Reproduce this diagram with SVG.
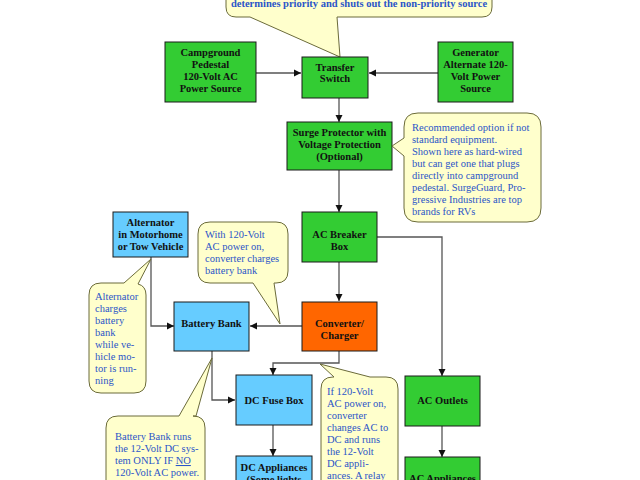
<svg xmlns="http://www.w3.org/2000/svg" width="640" height="480" viewBox="0 0 640 480">
<defs>
<marker id="ah" markerWidth="8" markerHeight="8" refX="7" refY="4" orient="auto" markerUnits="userSpaceOnUse">
<path d="M0,0.5 L7,4 L0,7.5 Z" fill="#111"/>
</marker>
<style>
.g{fill:#33cc33;stroke:#1a1a1a;stroke-width:1}
.b{fill:#66ccff;stroke:#1a1a1a;stroke-width:1}
.o{fill:#ff6600;stroke:#1a1a1a;stroke-width:1}
.t{font-family:"Liberation Serif",serif;font-weight:bold;font-size:10.5px;fill:#111;text-anchor:middle}
.c{fill:#ffffcc;stroke:#6b6b3a;stroke-width:1}
.ct{font-family:"Liberation Serif",serif;font-size:10.5px;fill:#2b55c8}
.e{fill:none;stroke:#555;stroke-width:1.3}
</style>
</defs>
<rect width="640" height="480" fill="#fff"/>

<g id="connectors">
<path class="e" d="M256,73 H301" marker-end="url(#ah)"/>
<path class="e" d="M438,73 H369" marker-end="url(#ah)"/>
<path class="e" d="M339,98 V122" marker-end="url(#ah)"/>
<path class="e" d="M339,170 V212" marker-end="url(#ah)"/>
<path class="e" d="M377,237 H442 V376" marker-end="url(#ah)"/>
<path class="e" d="M339,262 V301" marker-end="url(#ah)"/>
<path class="e" d="M302,326 H250" marker-end="url(#ah)"/>
<path class="e" d="M151,257 V326 H174" marker-end="url(#ah)"/>
<path class="e" d="M212,351 V400 H235" marker-end="url(#ah)"/>
<path class="e" d="M339,351 V363 H273 V375" marker-end="url(#ah)"/>
<path class="e" d="M273,425 V456" marker-end="url(#ah)"/>
<path class="e" d="M442,426 V457" marker-end="url(#ah)"/>
</g>

<g id="callout-top">
<path class="c" d="M236,-10 H482 Q492,-10 492,0 V7 Q492,17 482,17 H337 L340,57 L250,17 H236 Q226,17 226,7 V0 Q226,-10 236,-10 Z"/>
<text class="ct" x="359" y="7" font-size="9px" font-weight="bold" text-anchor="middle">determines priority and shuts out the non-priority source</text>
</g>

<g id="campground">
<rect class="g" x="165" y="42" width="91" height="60"/>
<text class="t" x="210.5" y="56">Campground</text>
<text class="t" x="210.5" y="68">Pedestal</text>
<text class="t" x="210.5" y="80" font-weight="normal">120-Volt AC</text>
<text class="t" x="210.5" y="92" font-weight="normal">Power Source</text>
</g>

<g id="transfer">
<rect class="g" x="302" y="57" width="66" height="41"/>
<text class="t" x="335" y="71">Transfer</text>
<text class="t" x="335" y="82">Switch</text>
</g>

<g id="generator">
<rect class="g" x="438" y="42" width="75" height="60"/>
<text class="t" x="475.5" y="56">Generator</text>
<text class="t" x="475.5" y="68" font-weight="normal">Alternate 120-</text>
<text class="t" x="475.5" y="80" font-weight="normal">Volt Power</text>
<text class="t" x="475.5" y="92" font-weight="normal">Source</text>
</g>

<g id="surge">
<rect class="g" x="287" y="122" width="105" height="48"/>
<text class="t" x="339.5" y="136">Surge Protector with</text>
<text class="t" x="339.5" y="148">Voltage Protection</text>
<text class="t" x="339.5" y="160" font-weight="normal">(Optional)</text>
</g>

<g id="callout-surge">
<path class="c" d="M418,113 H527 Q541,113 541,127 V208 Q541,222 527,222 H418 Q404,222 404,208 V156 L392,146 L404,138 V127 Q404,113 418,113 Z"/>
<text class="ct" x="412" y="131">Recommended option if not</text>
<text class="ct" x="412" y="143">standard equipment.</text>
<text class="ct" x="412" y="155">Shown here as hard-wired</text>
<text class="ct" x="412" y="167">but can get one that plugs</text>
<text class="ct" x="412" y="179">directly into campground</text>
<text class="ct" x="412" y="191">pedestal.  SurgeGuard, Pro-</text>
<text class="ct" x="412" y="203">gressive Industries are top</text>
<text class="ct" x="412" y="215">brands for RVs</text>
</g>

<g id="acbreaker">
<rect class="g" x="302" y="212" width="75" height="50"/>
<text class="t" x="339.5" y="238">AC Breaker</text>
<text class="t" x="339.5" y="250">Box</text>
</g>

<g id="alternator">
<rect class="b" x="113" y="212" width="75" height="45"/>
<text class="t" x="150.5" y="226">Alternator</text>
<text class="t" x="150.5" y="238" font-weight="normal">in Motorhome</text>
<text class="t" x="150.5" y="250" font-weight="normal">or Tow Vehicle</text>
</g>

<g id="callout-with120">
<path class="c" d="M210,222 H276 Q288,222 288,234 V271 Q288,283 276,283 H274 L280,324 L253,283 H210 Q198,283 198,271 V234 Q198,222 210,222 Z"/>
<text class="ct" x="205" y="238">With 120-Volt</text>
<text class="ct" x="205" y="250">AC power on,</text>
<text class="ct" x="205" y="262">converter charges</text>
<text class="ct" x="205" y="274">battery bank</text>
</g>

<g id="callout-alternator">
<path class="c" d="M101,283 H124 L151,259 L138,284 Q146,286 146,295 V381 Q146,393 134,393 H101 Q89,393 89,381 V295 Q89,283 101,283 Z"/>
<text class="ct" x="95" y="300">Alternator</text>
<text class="ct" x="95" y="312">charges</text>
<text class="ct" x="95" y="324">battery</text>
<text class="ct" x="95" y="336">bank</text>
<text class="ct" x="95" y="348">while ve-</text>
<text class="ct" x="95" y="360">hicle mo-</text>
<text class="ct" x="95" y="372">tor is run-</text>
<text class="ct" x="95" y="384">ning</text>
</g>

<g id="battery">
<rect class="b" x="174" y="302" width="75" height="49"/>
<text class="t" x="211.5" y="327">Battery Bank</text>
</g>

<g id="converter">
<rect class="o" x="302" y="302" width="75" height="49"/>
<text class="t" x="339.5" y="327">Converter/</text>
<text class="t" x="339.5" y="339">Charger</text>
</g>

<g id="dcfuse">
<rect class="b" x="236" y="375" width="76" height="50"/>
<text class="t" x="274" y="404">DC Fuse Box</text>
</g>

<g id="dcappliances">
<rect class="b" x="236" y="456" width="76" height="40"/>
<text class="t" x="274" y="471">DC Appliances</text>
<text class="t" x="274" y="483" font-weight="normal">(Some lights</text>
</g>

<g id="acoutlets">
<rect class="g" x="405" y="376" width="75" height="50"/>
<text class="t" x="442.5" y="404">AC Outlets</text>
</g>

<g id="acappliances">
<rect class="g" x="405" y="457" width="75" height="40"/>
<text class="t" x="442.5" y="482">AC Appliances</text>
</g>

<g id="callout-battery">
<path class="c" d="M118,416 H179 L212,358 L196,416 H193 Q205,416 205,428 V500 H106 V428 Q106,416 118,416 Z"/>
<text class="ct" x="115" y="440">Battery Bank runs</text>
<text class="ct" x="115" y="452">the 12-Volt DC sys-</text>
<text class="ct" x="115" y="464">tem ONLY IF <tspan text-decoration="underline">NO</tspan></text>
<text class="ct" x="115" y="476">120-Volt AC power.</text>
<text class="ct" x="115" y="488">If AC power on, the</text>
</g>

<g id="callout-if120">
<path class="c" d="M333,377 H334 L320,364 L370,377 H386 Q398,377 398,389 V500 H321 V389 Q321,377 333,377 Z"/>
<text class="ct" x="327" y="395">If 120-Volt</text>
<text class="ct" x="327" y="407">AC power on,</text>
<text class="ct" x="327" y="419">converter</text>
<text class="ct" x="327" y="431">changes AC to</text>
<text class="ct" x="327" y="443">DC and runs</text>
<text class="ct" x="327" y="455">the 12-Volt</text>
<text class="ct" x="327" y="467">DC appli-</text>
<text class="ct" x="327" y="479">ances.  A relay</text>
</g>
</svg>
